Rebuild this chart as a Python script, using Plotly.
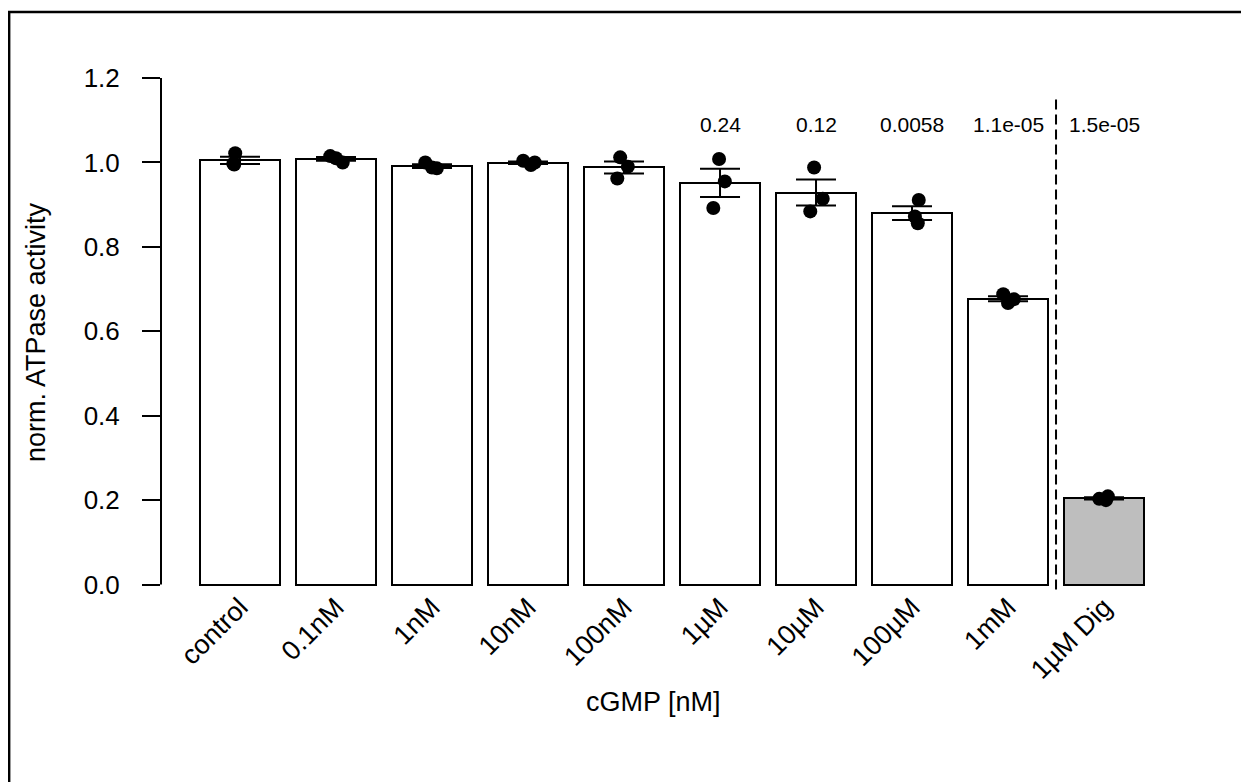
import numpy as np
import plotly.graph_objects as go

# ---- data ----
categories = ["control", "0.1nM", "1nM", "10nM", "100nM", "1µM", "10µM", "100µM", "1mM", "1µM Dig"]
replicates = [
    [1.022, 0.997, 0.995],
    [1.015, 1.010, 1.000],
    [1.000, 0.988, 0.986],
    [1.004, 1.000, 0.994],
    [1.012, 0.990, 0.962],
    [1.008, 0.955, 0.892],
    [0.988, 0.914, 0.884],
    [0.911, 0.872, 0.856],
    [0.688, 0.676, 0.667],
    [0.209, 0.203, 0.200],
]
p_labels = ["", "", "", "", "", "0.24", "0.12", "0.0058", "1.1e-05", "1.5e-05"]
y_ticks = [0.0, 0.2, 0.4, 0.6, 0.8, 1.0, 1.2]

# ---- style constants ----
jitter = [
    [-0.05, -0.07, -0.06], [-0.06, 0.00, 0.07], [-0.07, 0.00, 0.05], [-0.05, 0.07, 0.03],
    [-0.04, 0.04, -0.07], [-0.01, 0.05, -0.07], [-0.02, 0.07, -0.06], [0.07, 0.03, 0.06],
    [-0.05, 0.06, 0.00], [0.04, -0.05, 0.02],
]
bar_colors = ["white"] * 9 + ["#BEBEBE"]
FONT = "Liberation Sans, Arial, sans-serif"

xpos = np.arange(len(categories))
means = [float(np.mean(r)) for r in replicates]
sems = [float(np.std(r, ddof=1) / np.sqrt(len(r))) for r in replicates]

fig = go.Figure()
fig.add_trace(go.Bar(
    x=xpos, y=means, width=0.84,
    marker=dict(color=bar_colors, line=dict(color="black", width=2)),
    showlegend=False, hoverinfo="skip",
))
px_, py_ = [], []
for i, r in enumerate(replicates):
    for j, v in enumerate(r):
        px_.append(i + jitter[i][j])
        py_.append(v)
fig.add_trace(go.Scatter(
    x=px_, y=py_, mode="markers",
    marker=dict(color="black", size=14),
    showlegend=False, hoverinfo="skip",
))
fig.add_trace(go.Scatter(
    x=xpos, y=means, mode="markers",
    marker=dict(color="rgba(0,0,0,0)", size=1),
    error_y=dict(type="data", array=sems, visible=True, color="black", thickness=2, width=20),
    showlegend=False, hoverinfo="skip",
))

# p-value annotations
for i, t in enumerate(p_labels):
    if t:
        fig.add_annotation(x=i, y=1.089, text=t, showarrow=False,
                           xanchor="center", yanchor="middle",
                           font=dict(family=FONT, size=21, color="black"))

# dashed separator
fig.add_shape(type="line", x0=8.5, x1=8.5, y0=-0.012, y1=1.155, xref="x", yref="y",
              line=dict(color="black", width=2, dash="10px,5px"))
# y axis line (only over data range)
fig.add_shape(type="line", x0=0, x1=0, y0=0, y1=1.2, xref="paper", yref="y",
              line=dict(color="black", width=2))
# outer frame (left and top edges visible)
fig.add_shape(type="rect", x0=-0.152, x1=2, y0=-1, y1=1.128, xref="paper", yref="paper",
              line=dict(color="black", width=2.5), fillcolor="rgba(0,0,0,0)")

# axis titles
fig.add_annotation(x=-0.125, y=0.507, xref="paper", yref="paper", text="norm. ATPase activity",
                   textangle=-90, showarrow=False, xanchor="center", yanchor="middle",
                   font=dict(family=FONT, size=27, color="black"))
fig.add_annotation(x=0.4925, y=-0.212, xref="paper", yref="paper", text="cGMP [nM]",
                   showarrow=False, xanchor="center", yanchor="middle",
                   font=dict(family=FONT, size=27, color="black"))

fig.update_layout(
    width=1249, height=782,
    margin=dict(l=153, r=97, t=70, b=196.5),
    plot_bgcolor="white", paper_bgcolor="white",
    font=dict(family=FONT, color="black"),
    bargap=0,
)
fig.update_xaxes(
    range=[-0.823, 9.583], tickvals=list(xpos), ticktext=categories, tickangle=-45,
    showgrid=False, zeroline=False, showline=False, ticks="",
    ticklabelstandoff=-8,
    tickfont=dict(family=FONT, size=27, color="black"),
)
fig.update_yaxes(
    range=[-0.02, 1.2], tickvals=y_ticks, tickformat=".1f",
    showgrid=False, zeroline=False, showline=False,
    ticks="outside", ticklen=18, tickwidth=2, tickcolor="black",
    ticklabelstandoff=17,
    tickfont=dict(family=FONT, size=26, color="black"),
)

fig.write_html("out.html")
